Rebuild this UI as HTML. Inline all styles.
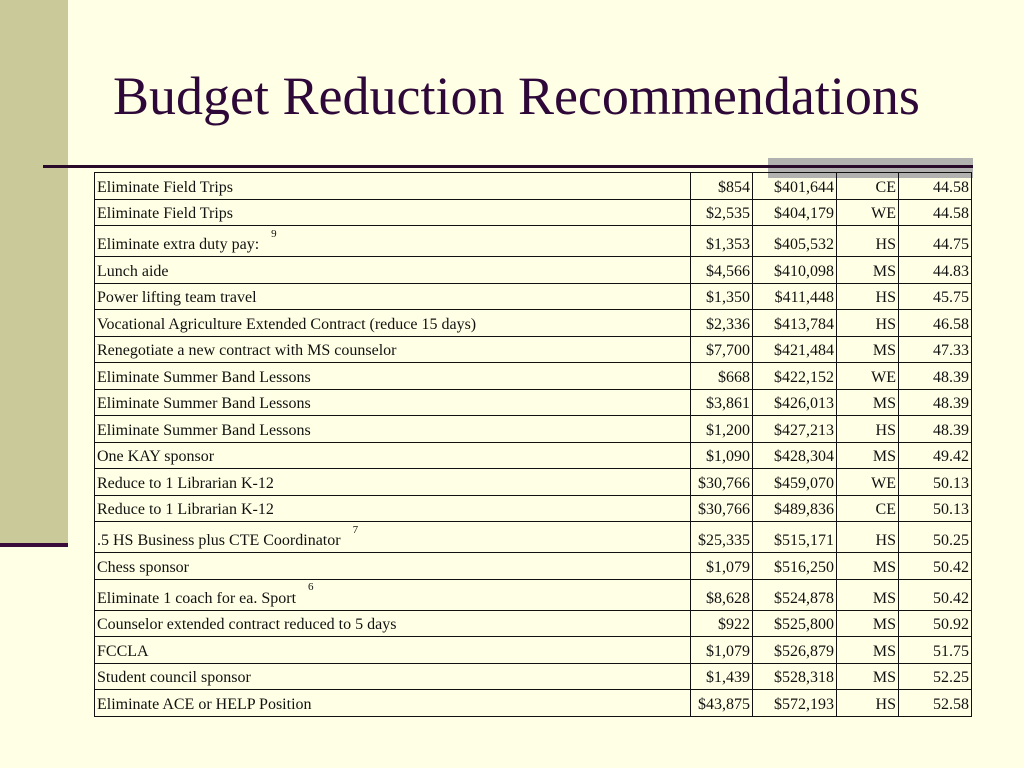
<!DOCTYPE html>
<html><head><style>
body{margin:0;width:1024px;height:768px;background:#FFFFE5;position:relative;overflow:hidden;font-family:"Liberation Serif",serif;}
.side{position:absolute;left:0;top:0;width:68px;height:544px;background:#C9C99A;}
.sbar{position:absolute;left:0;top:543px;width:68px;height:4px;background:#3A0A3A;}
.hline{position:absolute;left:43px;top:165px;width:930px;height:3px;background:#2A0A2A;}
.gray{position:absolute;left:768px;top:158px;width:205px;height:20px;background:#A8A8A8;opacity:.9;}
h1{position:absolute;left:113px;top:64px;margin:0;font-weight:normal;font-size:54px;color:#2E0838;line-height:64px;white-space:nowrap;}
table{position:absolute;left:94px;top:172px;border-collapse:collapse;font-size:16px;color:#111;}
td{border:1px solid #111;padding:0 2px;height:23.5px;line-height:18px;text-align:right;vertical-align:bottom;padding-bottom:2px;}
td:first-child{text-align:left;width:591px;}
td:nth-child(2){width:57px;}td:nth-child(3){width:79px;}td:nth-child(4){width:57px;}td:nth-child(5){width:68px;}
tr.t td{height:28px;}
sup{font-size:11px;margin-left:12px;position:relative;top:-6px;line-height:0;}
</style></head><body>
<div class="side"></div><div class="sbar"></div>
<h1>Budget Reduction Recommendations</h1>
<div class="gray"></div><div class="hline"></div>
<table>
<tr><td>Eliminate Field Trips</td><td>$854</td><td>$401,644</td><td>CE</td><td>44.58</td></tr>
<tr><td>Eliminate Field Trips</td><td>$2,535</td><td>$404,179</td><td>WE</td><td>44.58</td></tr>
<tr class="t"><td>Eliminate extra duty pay:<sup>9</sup></td><td>$1,353</td><td>$405,532</td><td>HS</td><td>44.75</td></tr>
<tr><td>Lunch aide</td><td>$4,566</td><td>$410,098</td><td>MS</td><td>44.83</td></tr>
<tr><td>Power lifting team travel</td><td>$1,350</td><td>$411,448</td><td>HS</td><td>45.75</td></tr>
<tr><td>Vocational Agriculture Extended Contract (reduce 15 days)</td><td>$2,336</td><td>$413,784</td><td>HS</td><td>46.58</td></tr>
<tr><td>Renegotiate a new contract with MS counselor</td><td>$7,700</td><td>$421,484</td><td>MS</td><td>47.33</td></tr>
<tr><td>Eliminate Summer Band Lessons</td><td>$668</td><td>$422,152</td><td>WE</td><td>48.39</td></tr>
<tr><td>Eliminate Summer Band Lessons</td><td>$3,861</td><td>$426,013</td><td>MS</td><td>48.39</td></tr>
<tr><td>Eliminate Summer Band Lessons</td><td>$1,200</td><td>$427,213</td><td>HS</td><td>48.39</td></tr>
<tr><td>One KAY sponsor</td><td>$1,090</td><td>$428,304</td><td>MS</td><td>49.42</td></tr>
<tr><td>Reduce to 1 Librarian K-12</td><td>$30,766</td><td>$459,070</td><td>WE</td><td>50.13</td></tr>
<tr><td>Reduce to 1 Librarian K-12</td><td>$30,766</td><td>$489,836</td><td>CE</td><td>50.13</td></tr>
<tr class="t"><td>.5 HS Business plus CTE Coordinator<sup>7</sup></td><td>$25,335</td><td>$515,171</td><td>HS</td><td>50.25</td></tr>
<tr><td>Chess sponsor</td><td>$1,079</td><td>$516,250</td><td>MS</td><td>50.42</td></tr>
<tr class="t"><td>Eliminate 1 coach for ea. Sport<sup>6</sup></td><td>$8,628</td><td>$524,878</td><td>MS</td><td>50.42</td></tr>
<tr><td>Counselor extended contract reduced to 5 days</td><td>$922</td><td>$525,800</td><td>MS</td><td>50.92</td></tr>
<tr><td>FCCLA</td><td>$1,079</td><td>$526,879</td><td>MS</td><td>51.75</td></tr>
<tr><td>Student council sponsor</td><td>$1,439</td><td>$528,318</td><td>MS</td><td>52.25</td></tr>
<tr><td>Eliminate ACE or HELP Position</td><td>$43,875</td><td>$572,193</td><td>HS</td><td>52.58</td></tr>
</table>
</body></html>
